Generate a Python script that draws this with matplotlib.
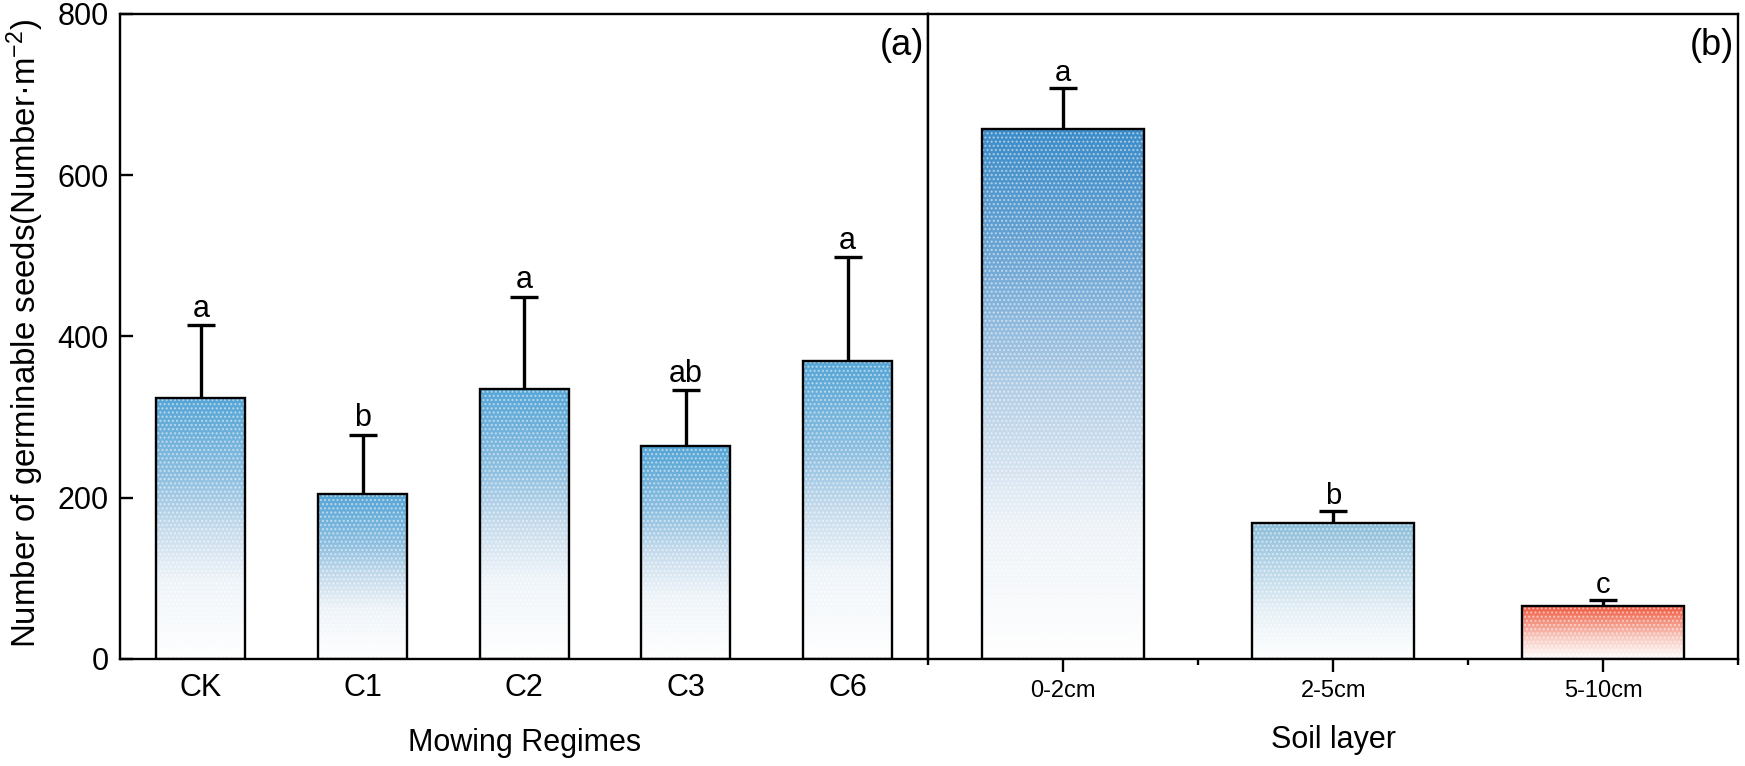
import numpy as np
import matplotlib
matplotlib.use('Agg')
import matplotlib.pyplot as plt
from matplotlib.colors import LinearSegmentedColormap
from matplotlib.ticker import FixedLocator

plt.rcParams['font.family'] = ['Liberation Sans', 'DejaVu Sans']
plt.rcParams['mathtext.fontset'] = 'custom'
plt.rcParams['mathtext.rm'] = 'Liberation Sans'
plt.rcParams['mathtext.it'] = 'Liberation Sans:italic'

# Dados - painel (a): regimes de corte
regimes = ['CK', 'C1', 'C2', 'C3', 'C6']
sementes_regime = [323, 204, 335, 264, 369]
erro_regime = [91, 74, 114, 69, 129]
letras_regime = ['a', 'b', 'a', 'ab', 'a']

# Dados - painel (b): camadas do solo
camadas = ['0-2cm', '2-5cm', '5-10cm']
sementes_camada = [657, 168, 66]
erro_camada = [51, 15, 7]
letras_camada = ['a', 'b', 'c']

azul = LinearSegmentedColormap.from_list(
    'azul', [(0, '#ffffff'), (0.3, '#eef4f9'), (0.5, '#c6dbec'), (0.7, '#8dbfe0'), (1, '#55a5d6')])
azul_escuro = LinearSegmentedColormap.from_list(
    'azul2', [(0, '#ffffff'), (0.25, '#eef3f8'), (0.5, '#b5cfe6'), (0.75, '#6fa7d5'), (1, '#3a8bc8')])
azul_claro = LinearSegmentedColormap.from_list(
    'azul3', [(0, '#ffffff'), (0.35, '#e6f0f6'), (1, '#8cbdda')])
vermelho = LinearSegmentedColormap.from_list(
    'verm', [(0, '#ffffff'), (0.4, '#f8c9bf'), (1, '#ef553a')])

grad = np.linspace(0, 1, 256).reshape(-1, 1)


def barras_gradiente(ax, valores, erros, letras, largura, cmaps, fs_letra):
    x = np.arange(len(valores))
    # barra de erro por baixo do gradiente -> so aparece a metade de cima
    ax.errorbar(x, valores, yerr=erros, fmt='none', ecolor='black',
                elinewidth=2.4, capsize=10, capthick=2.4, zorder=1)
    barras = ax.bar(x, valores, width=largura, facecolor='none', edgecolor='black',
                    linewidth=1.7, zorder=4)
    for b, cm in zip(barras, cmaps):
        x0, w, h = b.get_x(), b.get_width(), b.get_height()
        im = ax.imshow(grad, cmap=cm, origin='lower', extent=[x0, x0 + w, 0, h],
                       aspect='auto', zorder=2, interpolation='bicubic')
        im.set_clip_path(b)
        # pontinhos brancos por cima
        ax.bar(x0 + w / 2, h, width=w, facecolor='none', edgecolor='white',
               linewidth=0, hatch='....', alpha=0.5, zorder=3)
    for xi, v, e, l in zip(x, valores, erros, letras):
        ax.annotate(l, (xi, v + e), xytext=(0, 1), textcoords='offset points',
                    ha='center', va='bottom', fontsize=fs_letra)


fig = plt.figure(figsize=(17.45, 7.66), dpi=100)
ax1 = fig.add_axes([0.0688, 0.1397, 0.4632, 0.8423])
ax2 = fig.add_axes([0.532, 0.1397, 0.464, 0.8423])

barras_gradiente(ax1, sementes_regime, erro_regime, letras_regime, 0.55, [azul] * 5, 22)
barras_gradiente(ax2, sementes_camada, erro_camada, letras_camada, 0.6,
                 [azul_escuro, azul_claro, vermelho], 21)

for ax in (ax1, ax2):
    ax.set_ylim(0, 800)
    for s in ax.spines.values():
        s.set_linewidth(1.7)

ax1.set_xlim(-0.5, 4.5)
ax2.set_xlim(-0.5, 2.5)

ax1.set_yticks([0, 200, 400, 600, 800])
ax1.tick_params(axis='y', direction='in', length=9, width=1.7, labelsize=22, pad=8)
ax1.set_xticks(range(len(regimes)))
ax1.set_xticklabels(regimes)
ax1.tick_params(axis='x', length=0, labelsize=22, pad=10)
ax1.set_xlabel('Mowing Regimes', fontsize=22, labelpad=18)
ax1.set_ylabel('Number of germinable seeds(Number·m$^{-2}$)', fontsize=23.8)
ax1.yaxis.set_label_coords(-0.092, 0.505)

ax2.set_yticks([])
ax2.set_xticks(range(len(camadas)))
ax2.set_xticklabels(camadas)
ax2.xaxis.set_minor_locator(FixedLocator([-0.5, 0.5, 1.5, 2.5]))
ax2.tick_params(axis='x', which='major', direction='out', length=9, width=1.7, labelsize=17, pad=6)
ax2.tick_params(axis='x', which='minor', direction='out', length=4, width=1.7)
ax2.set_xlabel('Soil layer', fontsize=22, labelpad=17)

ax1.text(0.995, 0.978, '(a)', transform=ax1.transAxes, ha='right', va='top', fontsize=26)
ax2.text(0.995, 0.978, '(b)', transform=ax2.transAxes, ha='right', va='top', fontsize=26)

fig.savefig('out.png', dpi=100)
